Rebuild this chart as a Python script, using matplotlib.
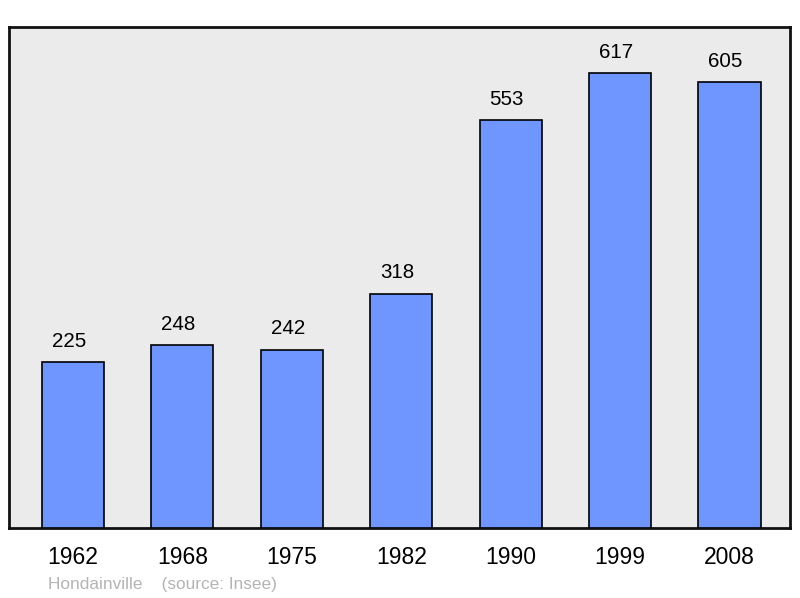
import matplotlib
matplotlib.use("Agg")
import matplotlib.pyplot as plt

years = ["1962", "1968", "1975", "1982", "1990", "1999", "2008"]
population = [225, 248, 242, 318, 553, 617, 605]
caption = "Hondainville    (source: Insee)"

plt.rcParams['font.family'] = ['Liberation Sans', 'DejaVu Sans']

fig = plt.figure(figsize=(8, 5.98), dpi=100)
ax = fig.add_axes([9/800, 70/598, 781/800, 501/598])
ax.set_facecolor('#ebebeb')

x = list(range(len(years)))
bars = ax.bar(x, population, width=0.567, color='#6f96ff', edgecolor='black', linewidth=1.2, zorder=3)
for xi, v in zip(x, population):
    ax.annotate(str(v), (xi, v), xytext=(-3, 8), textcoords='offset points',
                ha='center', va='bottom', fontsize=14.8, color='black')

ax.set_xlim(-0.585, 6.553)
ax.set_ylim(0, 679.4)
ax.set_yticks([])
ax.set_xticks(x)
ax.set_xticklabels(years, fontsize=16.5)
ax.tick_params(axis='x', length=0, pad=13)
for s in ax.spines.values():
    s.set_linewidth(2)
    s.set_color('#111111')

fig.text(48/800, 1 - 584/598, caption, fontsize=12.4, color='#b4b4b4', ha='left', va='center')

fig.savefig('out.png', dpi=100)
